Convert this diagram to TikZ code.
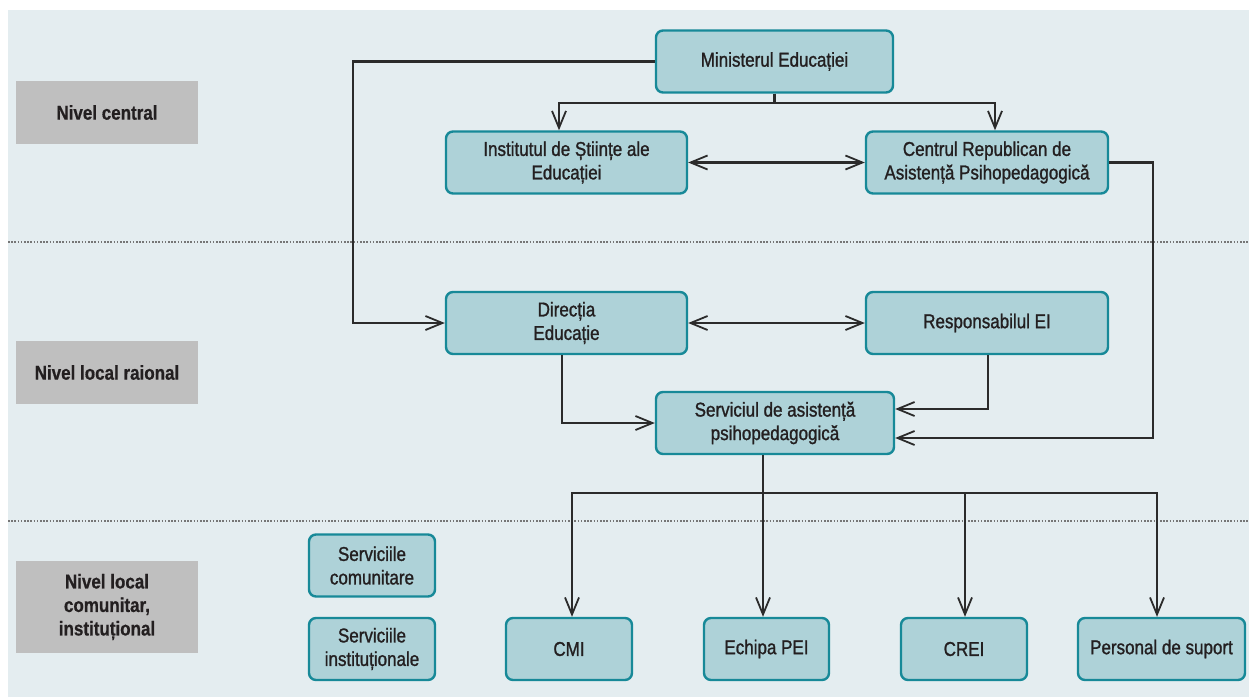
\documentclass[tikz,border=0pt]{standalone}
\usepackage{fontspec}
\setmainfont{Liberation Sans}[FakeStretch=0.85,UprightFeatures={FakeBold=1.2},BoldFeatures={FakeBold=0.6}]
\usetikzlibrary{arrows.meta}
\definecolor{bgc}{HTML}{E4EDF0}
\definecolor{lvl}{HTML}{BFBFBF}
\definecolor{boxf}{HTML}{AED2D8}
\definecolor{boxd}{HTML}{178998}
\definecolor{ln}{HTML}{2B2B2B}
\definecolor{txt}{HTML}{231F20}
\definecolor{dotc}{HTML}{767676}
\begin{document}
\begin{tikzpicture}[x=1pt,y=-1pt,
  every node/.style={text=txt,font=\fontsize{20}{23.5}\selectfont,align=center,inner sep=0pt},
  lvlbox/.style={fill=lvl,draw=none,font=\fontsize{20}{23.5}\selectfont\bfseries},
  orgbox/.style={fill=boxf,draw=boxd,line width=2.4pt,rounded corners=7pt},
  conn/.style={draw=ln,line width=2.1pt},
  arr/.style={conn,-{Straight Barb[length=17pt,width=14pt,line width=1.8pt]}},
  darr/.style={conn,{Straight Barb[length=17pt,width=14pt,line width=1.8pt]}-{Straight Barb[length=17pt,width=14pt,line width=1.8pt]}},
  sepline/.style={draw=dotc,line width=2pt,dash pattern=on 1.6pt off 1.6pt}]
\useasboundingbox (0,0) rectangle (1249,697);
\fill[bgc] (8,10) rectangle (1249,697);
\path[sepline] (8,241.5) -- (1249,241.5);
\path[sepline] (8,520.5) -- (1249,520.5);
% level labels
\node[lvlbox,minimum width=182,minimum height=63] (lc) at (107,112.5) {Nivel central};
\node[lvlbox,minimum width=182,minimum height=63] (lr) at (107,372.5) {Nivel local raional};
\node[lvlbox,minimum width=182,minimum height=92] (ll) at (107,607) {Nivel local\\comunitar,\\instituțional};
% org boxes
\node[orgbox,minimum width=237,minimum height=62] (min) at (774.5,61.5) {Ministerul Educației};
\node[orgbox,minimum width=241,minimum height=62] (inst) at (566.5,162.5) {Institutul de Științe ale\\Educației};
\node[orgbox,minimum width=242,minimum height=62] (crap) at (987,162.5) {Centrul Republican de\\Asistență Psihopedagogică};
\node[orgbox,minimum width=241,minimum height=62] (dir) at (566.5,323) {Direcția\\Educație};
\node[orgbox,minimum width=242,minimum height=62] (resp) at (987,323) {Responsabilul EI};
\node[orgbox,minimum width=238,minimum height=62] (sap) at (775,423) {Serviciul de asistență\\psihopedagogică};
\node[orgbox,minimum width=126,minimum height=62] (sc) at (372,565.5) {Serviciile\\comunitare};
\node[orgbox,minimum width=126,minimum height=62] (si) at (372,649) {Serviciile\\instituționale};
\node[orgbox,minimum width=126,minimum height=62] (cmi) at (569,649) {CMI};
\node[orgbox,minimum width=125,minimum height=62] (pei) at (766.5,649) {Echipa PEI};
\node[orgbox,minimum width=126,minimum height=62] (crei) at (964,649) {CREI};
\node[orgbox,minimum width=167,minimum height=62] (pers) at (1161.5,649) {Personal de suport};
% connectors
\draw[arr] (min.west) -- ++(-302,0) |- (dir.west);
\draw[arr] (min.south) -- ++(0,9.5) -| ([xshift=-7.5pt]inst.north);
\draw[arr] (min.south) -- ++(0,9.5) -| ([xshift=8pt]crap.north);
\draw[darr] (inst.east) -- (crap.west);
\draw[darr] (dir.east) -- (resp.west);
\draw[arr] (crap.east) -- ++(44,0) |- ([yshift=-15pt]sap.east);
\draw[arr] ([xshift=-4.5pt]dir.south) |- (sap.west);
\draw[arr] ([xshift=1pt]resp.south) |- ([yshift=14pt]sap.east);
\draw[arr] ([xshift=-12pt]sap.south) -- ([xshift=-3.5pt]pei.north);
\coordinate (bj) at (763,493);
\draw[arr] (bj) -| ([xshift=3pt]cmi.north);
\draw[arr] (bj) -| ([xshift=1pt]crei.north);
\draw[arr] (bj) -| ([xshift=-4.5pt]pers.north);
\end{tikzpicture}
\end{document}
